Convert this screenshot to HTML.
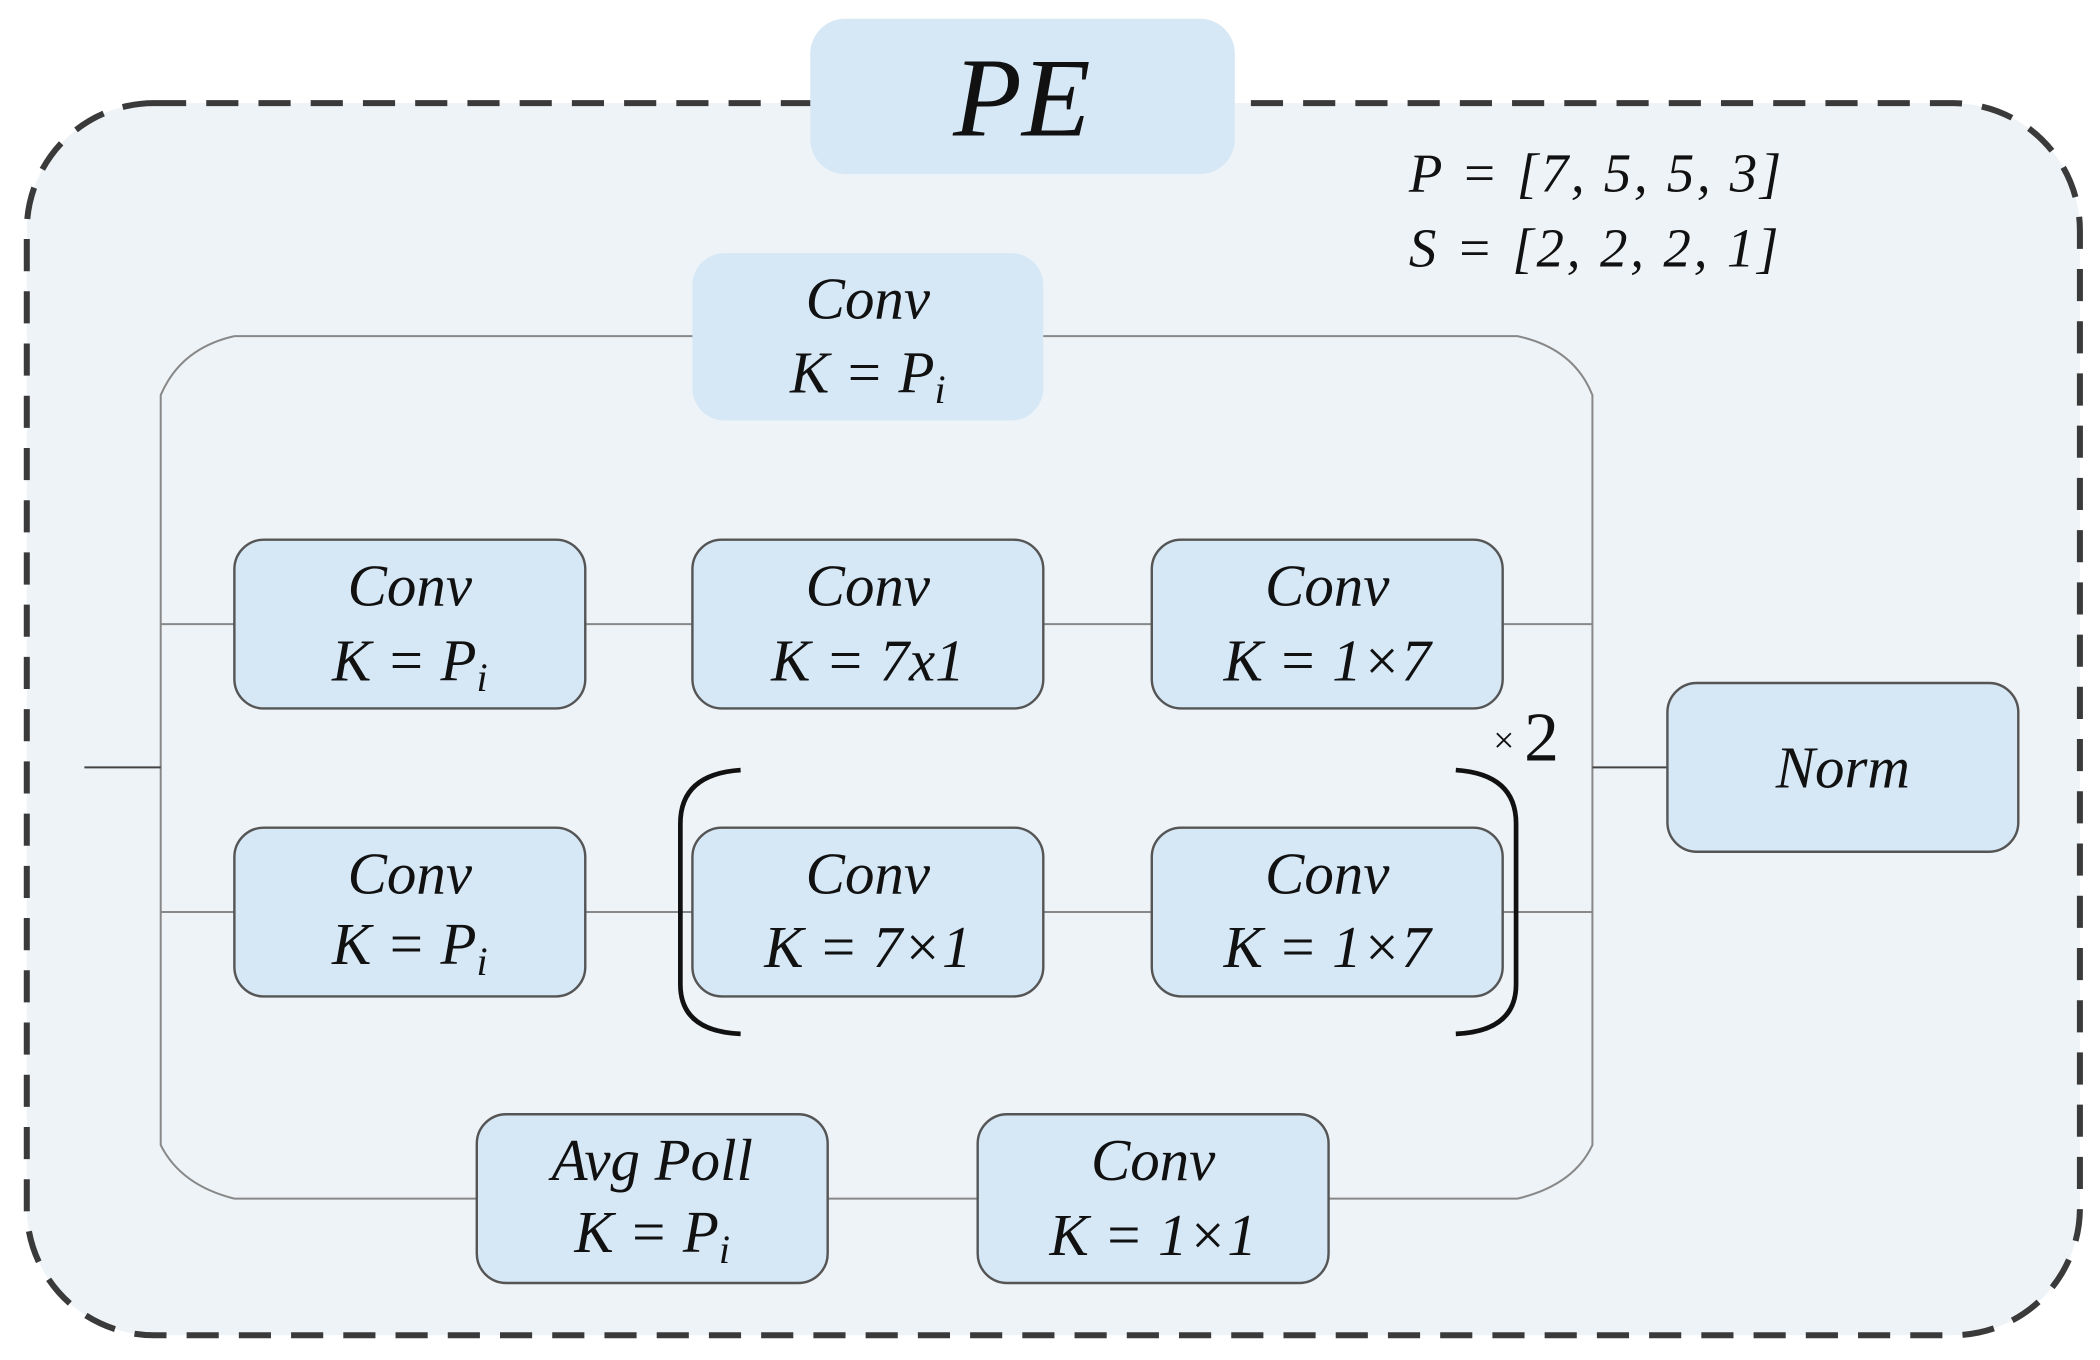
<!DOCTYPE html>
<html><head><meta charset="utf-8"><style>
html,body{margin:0;padding:0;background:#fff;}
svg{display:block;}
text{font-family:"Liberation Serif",serif;font-style:italic;fill:#111;}
</style></head><body>
<svg width="2100" height="1360" viewBox="0 0 1568 1015.5" preserveAspectRatio="none" xmlns="http://www.w3.org/2000/svg">
<rect x="20" y="77" width="1533" height="920" rx="95" fill="#eef3f7" stroke="#3a3a3a" stroke-width="4.5" stroke-dasharray="24,15"/>
<rect x="605" y="14" width="317" height="116" rx="26" fill="#d6e8f6"/>
<text x="763" y="101" font-size="84" text-anchor="middle">PE</text>
<text x="1052" y="143" font-size="41" textLength="278" lengthAdjust="spacing">P = [7, 5, 5, 3]</text>
<text x="1052" y="199" font-size="41" textLength="276" lengthAdjust="spacing">S = [2, 2, 2, 1]</text>
<g fill="none" stroke="#888" stroke-width="1.5">
<path d="M175 251 H1133 Q1175 260 1189 295 V855 Q1175 885 1133 895 H175 Q135 885 120 855 V295 Q135 260 175 251"/>
<path d="M120 466 H1189 M120 681 H1189"/>
<path d="M1189 573 H1245 M63 573 H120" stroke="#444"/>
</g>
<rect x="517" y="189" width="262" height="125" rx="24" fill="#d6e8f6"/>
<g fill="#d6e8f6" stroke="#555" stroke-width="1.8">
<rect x="175" y="403" width="262" height="126" rx="22"/>
<rect x="517" y="403" width="262" height="126" rx="22"/>
<rect x="860" y="403" width="262" height="126" rx="22"/>
<rect x="175" y="618" width="262" height="126" rx="22"/>
<rect x="517" y="618" width="262" height="126" rx="22"/>
<rect x="860" y="618" width="262" height="126" rx="22"/>
<rect x="356" y="832" width="262" height="126" rx="22"/>
<rect x="730" y="832" width="262" height="126" rx="22"/>
<rect x="1245" y="510" width="262" height="126" rx="22"/>
</g>
<g fill="none" stroke="#111" stroke-width="3.5">
<path d="M553 575 Q508 578 508 615 V735 Q508 770 553 772"/>
<path d="M1087 575 Q1132 578 1132 615 V735 Q1132 770 1087 772"/>
</g>
<text x="1115" y="562" font-size="28" style="font-style:normal">×</text>
<text x="1138" y="568" font-size="52" style="font-style:normal">2</text>
<g font-size="44" text-anchor="middle">
<text x="648" y="238">Conv</text><text x="648" y="293">K = P<tspan font-size="30" dy="8">i</tspan></text>
<text x="306" y="452">Conv</text><text x="306" y="508">K = P<tspan font-size="30" dy="8">i</tspan></text>
<text x="648" y="452">Conv</text><text x="648" y="508">K = 7x1</text>
<text x="991" y="452">Conv</text><text x="991" y="508">K = 1×7</text>
<text x="306" y="667">Conv</text><text x="306" y="720">K = P<tspan font-size="30" dy="8">i</tspan></text>
<text x="648" y="667">Conv</text><text x="648" y="722">K = 7×1</text>
<text x="991" y="667">Conv</text><text x="991" y="722">K = 1×7</text>
<text x="487" y="881">Avg Poll</text><text x="487" y="935">K = P<tspan font-size="30" dy="8">i</tspan></text>
<text x="861" y="881">Conv</text><text x="861" y="937">K = 1×1</text>
<text x="1376" y="588">Norm</text>
</g>
</svg>
</body></html>
